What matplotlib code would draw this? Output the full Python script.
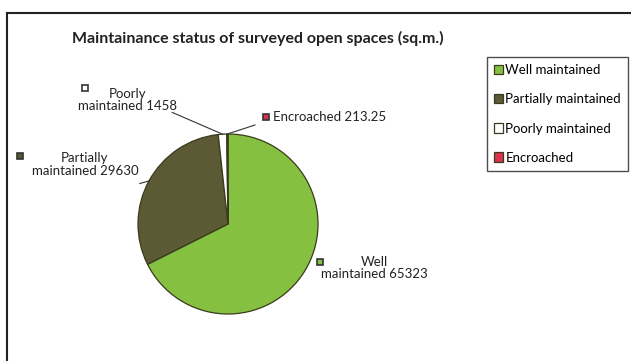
import numpy as np
import matplotlib.pyplot as plt
from matplotlib.lines import Line2D

# Data
labels = ['Well maintained', 'Partially maintained', 'Poorly maintained', 'Encroached']
areas = [65323, 29630, 1458, 213.25]
label_text = ['Well\nmaintained 65323', 'Partially\nmaintained 29630',
              'Poorly\nmaintained 1458', 'Encroached 213.25']
colors = ['#86c040', '#5b5a34', '#ffffff', '#d8324c']

plt.rcParams['font.family'] = ['Lato', 'DejaVu Sans']

W, H = 631, 361
fig = plt.figure(figsize=(W / 100, H / 100), dpi=100)

# chart frame (only top and left edges visible in the scan)
fig.lines.append(Line2D([7 / W, 1], [1 - 13 / H, 1 - 13 / H], transform=fig.transFigure,
                        color='#222222', linewidth=1.5))
fig.lines.append(Line2D([7 / W, 7 / W], [0, 1 - 13 / H], transform=fig.transFigure,
                        color='#222222', linewidth=1.5))

fig.text(258 / W, 1 - 38 / H, 'Maintainance status of surveyed open spaces (sq.m.)',
         ha='center', va='center', fontsize=11.5, fontweight='bold', color='#222222')

# pie axes: centre (228, 224) px, radius 90 px
cx, cy, r = 228, 224, 90
ax = fig.add_axes([(cx - r) / W, (H - cy - r) / H, 2 * r / W, 2 * r / H])
wedges, _ = ax.pie(areas, colors=colors, startangle=90, counterclock=False, radius=1,
                   wedgeprops={'edgecolor': '#3a3a20', 'linewidth': 0.9})
ax.set_xlim(-1, 1)
ax.set_ylim(-1, 1)
ax.set_aspect('auto')
ax.axis('off')

# data labels (text anchor, marker position, line end near label)
lab_pos = [(1.63, -0.49), (-1.59, 0.66), (-1.12, 1.38), (0.50, 1.19)]
mark_pos = [(1.02, -0.42), (-2.31, 0.76), (-1.59, 1.51), (0.42, 1.19)]
line_end = [None, (-0.98, 0.45), (-0.62, 1.24), (0.30, 1.10)]
for i, w in enumerate(wedges):
    ang = np.deg2rad((w.theta1 + w.theta2) / 2)
    edge = (np.cos(ang), np.sin(ang))
    ha = 'left' if i == 3 else 'center'
    ax.text(lab_pos[i][0], lab_pos[i][1], label_text[i], ha=ha, va='center',
            fontsize=9.5, color='#222222', linespacing=1.05, clip_on=False)
    ax.plot(*mark_pos[i], marker='s', markersize=5, markerfacecolor=colors[i],
            markeredgecolor='#333333', markeredgewidth=1.2, clip_on=False)
    if line_end[i] is not None:
        ax.plot([edge[0], line_end[i][0]], [edge[1], line_end[i][1]],
                color='#333333', linewidth=0.8, clip_on=False)

leg = fig.legend(wedges, labels, loc='upper left', bbox_to_anchor=(487 / W, 1 - 57 / H),
                 fontsize=9.5, frameon=True, fancybox=False, edgecolor='#222222',
                 handlelength=0.7, handleheight=0.7, handletextpad=0.15,
                 labelspacing=1.3, borderpad=0.55, borderaxespad=0)
leg.get_frame().set_linewidth(1.0)

fig.savefig('out.png', dpi=100)
